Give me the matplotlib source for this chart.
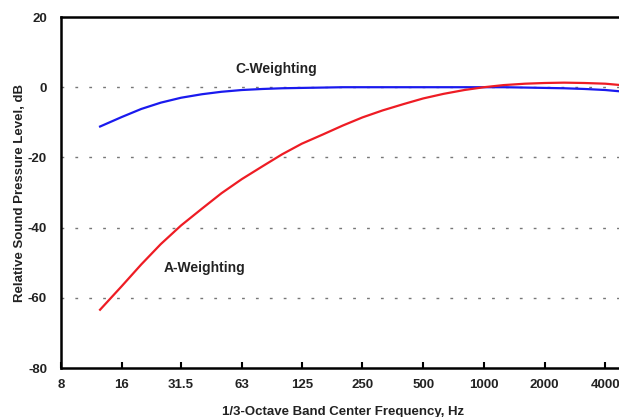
import matplotlib.pyplot as plt
from matplotlib.ticker import FixedLocator, NullLocator

plt.rcParams['font.family'] = ['Liberation Sans', 'DejaVu Sans']
plt.rcParams['font.weight'] = 'bold'
plt.rcParams['axes.unicode_minus'] = False

# 1/3-octave band centre frequencies (Hz) and weighting values (dB)
freq = [12.5, 16, 20, 25, 31.5, 40, 50, 63, 80, 100, 125, 160, 200, 250,
        315, 400, 500, 630, 800, 1000, 1250, 1600, 2000, 2500, 3150, 4000,
        5000, 6300]
a_weight = [-63.4, -56.7, -50.5, -44.7, -39.4, -34.6, -30.2, -26.2, -22.5,
            -19.1, -16.1, -13.4, -10.9, -8.6, -6.6, -4.8, -3.2, -1.9, -0.8,
            0.0, 0.6, 1.0, 1.2, 1.3, 1.2, 1.0, 0.5, -0.1]
c_weight = [-11.2, -8.5, -6.2, -4.4, -3.0, -2.0, -1.3, -0.8, -0.5, -0.3,
            -0.2, -0.1, 0.0, 0.0, 0.0, 0.0, 0.0, 0.0, 0.0, 0.0, 0.0, -0.1,
            -0.2, -0.3, -0.5, -0.8, -1.3, -2.0]

xticks = [8, 16, 31.5, 63, 125, 250, 500, 1000, 2000, 4000]
xtick_labels = ['8', '16', '31.5', '63', '125', '250', '500', '1000', '2000', '4000']
yticks = [-80, -60, -40, -20, 0, 20]

fig = plt.figure(figsize=(6.19, 4.17), dpi=100)
ax = fig.add_axes([0.0985, 0.1175, 0.911, 0.8417])

for y in [-60, -40, -20, 0]:
    ax.axhline(y, color='#777777', lw=1.0, linestyle=(0, (2, 8)), zorder=1)

ax.plot(freq, c_weight, color='#1a1aee', lw=1.6, zorder=3,
        solid_joinstyle='round')
ax.plot(freq, a_weight, color='#ee1c24', lw=1.6, zorder=3,
        solid_joinstyle='round')

ax.set_xscale('log')
ax.set_xlim(8, 5000)
ax.set_ylim(-80, 20)
ax.xaxis.set_major_locator(FixedLocator(xticks))
ax.xaxis.set_minor_locator(NullLocator())
ax.set_xticklabels(xtick_labels)
ax.set_yticks(yticks)

ax.tick_params(axis='x', direction='in', length=4, width=1.5, pad=8,
               labelsize=9.5, labelcolor='#222222')
ax.tick_params(axis='y', length=0, pad=10, labelsize=9.5, labelcolor='#222222')

for side in ['left', 'bottom', 'top', 'right']:
    ax.spines[side].set_linewidth(1.8)

ax.text(93, 5.3, 'C-Weighting', ha='center', va='center', fontsize=10,
        fontweight='bold', color='#222222')
ax.text(41, -51.6, 'A-Weighting', ha='center', va='center', fontsize=10,
        fontweight='bold', color='#222222')

ax.set_xlabel('1/3-Octave Band Center Frequency, Hz', fontsize=9.5,
              fontweight='bold', color='#222222', labelpad=11)
ax.set_ylabel('Relative Sound Pressure Level, dB', fontsize=9.5,
              fontweight='bold', color='#222222', labelpad=1)

fig.savefig('out.png', dpi=100)
